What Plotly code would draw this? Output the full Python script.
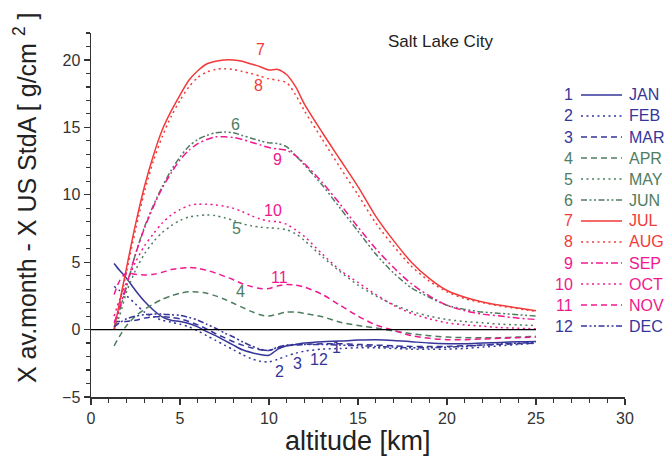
import plotly.graph_objects as go

# ---------------- data ----------------
altitude = [1.3, 1.6, 2.0, 2.5, 3.0, 3.5, 4.0, 4.5, 5.0, 5.5, 6.0, 6.5, 7.0, 7.5, 8.0, 8.5,
            9.0, 9.5, 10.0, 10.5, 11.0, 11.5, 12.0, 13, 14, 15, 16, 17, 18, 19, 20, 21,
            22, 23, 24, 25]

jan = [4.9, 4.4, 3.8, 2.9, 2.1, 1.45, 0.95, 0.7, 0.6, 0.45, 0.2, -0.15, -0.45, -0.8, -1.15, -1.5,
       -1.7, -1.85, -1.9, -1.45, -1.2, -1.1, -1.0, -0.9, -0.85, -0.78, -0.75, -0.8, -0.9, -1.0, -1.05, -1.05,
       -1.0, -0.95, -0.9, -0.88]
feb = [3.2, 2.9, 2.5, 1.9, 1.3, 0.95, 0.7, 0.55, 0.4, 0.2, -0.1, -0.45, -0.8, -1.15, -1.5, -1.85,
       -2.15, -2.35, -2.4, -2.2, -1.95, -1.75, -1.6, -1.45, -1.4, -1.35, -1.35, -1.4, -1.45, -1.45, -1.45, -1.4,
       -1.3, -1.2, -1.1, -1.0]
mar = [0.6, 0.6, 0.6, 0.7, 0.85, 0.95, 0.95, 0.9, 0.8, 0.6, 0.35, 0.05, -0.3, -0.6, -0.9, -1.15,
       -1.35, -1.5, -1.55, -1.35, -1.2, -1.15, -1.1, -1.05, -1.05, -1.1, -1.15, -1.2, -1.25, -1.25, -1.25, -1.2,
       -1.15, -1.1, -1.05, -1.0]
apr = [-1.2, -0.5, 0.3, 1.0, 1.5, 1.9, 2.25, 2.5, 2.7, 2.8, 2.78, 2.7, 2.5, 2.25, 1.95, 1.65,
       1.35, 1.1, 1.0, 1.15, 1.3, 1.3, 1.2, 0.95, 0.55, 0.3, 0.12, -0.1, -0.3, -0.45, -0.55, -0.6,
       -0.6, -0.6, -0.55, -0.5]
may = [0.0, 1.0, 2.8, 4.4, 5.6, 6.5, 7.2, 7.7, 8.1, 8.35, 8.45, 8.5, 8.45, 8.3, 8.1, 7.85,
       7.7, 7.6, 7.55, 7.5, 7.4, 7.1, 6.6, 5.4, 4.3, 3.3, 2.5, 1.85, 1.35, 1.0, 0.75, 0.6,
       0.5, 0.4, 0.35, 0.3]
jun = [0.2, 1.4, 3.2, 5.6, 7.6, 9.2, 10.6, 11.8, 12.8, 13.6, 14.1, 14.4, 14.6, 14.65, 14.6, 14.4,
       14.2, 14.0, 13.85, 13.8, 13.55, 12.9, 12.2, 10.7, 9.0, 7.3, 5.6, 4.2, 3.1, 2.4, 1.8, 1.5,
       1.3, 1.2, 1.1, 1.0]
jul = [0.0, 2.0, 4.6, 7.8, 10.6, 12.9, 14.8, 16.2, 17.4, 18.5, 19.2, 19.7, 19.9, 20.0, 20.0, 19.9,
       19.7, 19.5, 19.25, 19.3, 18.9, 18.0, 16.7, 14.6, 12.6, 10.6, 8.4, 6.6, 5.0, 3.8, 2.9, 2.4,
       2.05, 1.8, 1.6, 1.4]
aug = [0.0, 1.8, 4.3, 7.4, 10.2, 12.5, 14.3, 15.8, 17.0, 18.0, 18.7, 19.1, 19.3, 19.35, 19.3, 19.15,
       19.0, 18.8, 18.6, 18.5, 18.3, 17.4, 16.2, 14.1, 12.0, 10.0, 7.9, 6.2, 4.7, 3.6, 2.8, 2.3,
       2.0, 1.75, 1.55, 1.35]
sep = [0.5, 1.6, 3.3, 5.6, 7.5, 9.1, 10.5, 11.6, 12.6, 13.3, 13.8, 14.1, 14.3, 14.3, 14.25, 14.1,
       13.9, 13.7, 13.5, 13.4, 13.3, 12.9, 12.3, 10.9, 9.3, 7.6, 6.0, 4.6, 3.4, 2.5, 1.8, 1.4,
       1.15, 1.0, 0.85, 0.75]
oct_ = [1.0, 2.2, 3.5, 5.0, 6.2, 7.1, 7.9, 8.5, 8.9, 9.2, 9.3, 9.3, 9.25, 9.15, 9.0, 8.75,
        8.45, 8.2, 8.05, 8.0, 7.8, 7.4, 6.9, 5.6, 4.4, 3.5, 2.6, 1.8, 1.2, 0.8, 0.5, 0.35,
        0.25, 0.15, 0.1, 0.05]
nov = [2.6, 3.6, 4.2, 4.1, 4.05, 4.1, 4.25, 4.45, 4.55, 4.6, 4.55, 4.4, 4.2, 3.95, 3.7, 3.4,
       3.2, 3.05, 3.05, 3.25, 3.35, 3.3, 3.15, 2.6, 1.8, 1.0, 0.35, -0.05, -0.45, -0.65, -0.75, -0.75,
       -0.7, -0.65, -0.6, -0.55]
dec = [0.2, 0.5, 0.8, 1.0, 1.1, 1.15, 1.15, 1.1, 1.05, 0.9, 0.7, 0.4, 0.1, -0.25, -0.55, -0.9,
       -1.2, -1.45, -1.55, -1.3, -1.15, -1.1, -1.1, -1.1, -1.15, -1.2, -1.25, -1.3, -1.35, -1.35, -1.3, -1.25,
       -1.15, -1.05, -1.0, -0.95]

month_numbers = ["1", "2", "3", "4", "5", "6", "7", "8", "9", "10", "11", "12"]
month_names = ["JAN", "FEB", "MAR", "APR", "MAY", "JUN", "JUL", "AUG", "SEP", "OCT", "NOV", "DEC"]
series = [jan, feb, mar, apr, may, jun, jul, aug, sep, oct_, nov, dec]

# curve label positions (altitude, value)
label_alt = [13.8, 10.6, 11.6, 8.4, 8.2, 8.1, 9.5, 9.4, 10.45, 10.25, 10.6, 12.8]
label_val = [-1.35, -3.1, -2.55, 2.85, 7.5, 15.25, 20.75, 18.1, 12.6, 8.85, 3.85, -2.25]

zero_line_alt = [0, 25]
x_ticks = [0, 5, 10, 15, 20, 25, 30]
y_ticks = [-5, 0, 5, 10, 15, 20]

# ---------------- style ----------------
BLUE = "#35359a"
GREEN = "#4e7d5f"
RED = "#f23a3a"
MAG = "#f0188e"
colors = [BLUE, BLUE, BLUE, GREEN, GREEN, GREEN, RED, RED, MAG, MAG, MAG, BLUE]
DOT = "2px,3.5px"
DASH = "6px,4px"
DASHDOT = "7px,3px,2px,3px"
DASHDOTDOT = "6px,2.5px,2px,2.5px,2px,2.5px"
dashes = ["solid", DOT, DASH, DASH, DOT, DASHDOTDOT, "solid", DOT, DASHDOT, DOT, DASH, DASHDOTDOT]
FONT = "Liberation Sans, Arial, sans-serif"

fig = go.Figure()

for name, vals, c, d in zip(month_names, series, colors, dashes):
    fig.add_trace(go.Scatter(
        x=altitude, y=vals, mode="lines", name=name,
        line=dict(color=c, width=1.5, dash=d, shape="spline", smoothing=0.8),
        showlegend=False, hoverinfo="skip"))

# zero reference line
fig.add_trace(go.Scatter(x=zero_line_alt, y=[0, 0], mode="lines",
                         line=dict(color="black", width=1.3), showlegend=False, hoverinfo="skip"))

annotations = []
# curve labels
for num, xa, ya, c in zip(month_numbers, label_alt, label_val, colors):
    annotations.append(dict(x=xa, y=ya, xref="x", yref="y", text=num, showarrow=False,
                            font=dict(family=FONT, size=16, color=c)))

# custom legend
L, T, W, H = 91, 33, 534, 364   # plot area in px


def px2paper_x(px):
    return (px - L) / W


def px2paper_y(py):
    return (T + H - py) / H


shapes = []
for i, (num, name, c, d) in enumerate(zip(month_numbers, month_names, colors, dashes)):
    py = 95 + i * 21.0
    yp = px2paper_y(py)
    annotations.append(dict(x=px2paper_x(575), y=yp, xref="paper", yref="paper", text=num,
                            xanchor="right", yanchor="middle", showarrow=False,
                            font=dict(family=FONT, size=16, color=c)))
    annotations.append(dict(x=px2paper_x(627), y=yp, xref="paper", yref="paper", text=name,
                            xanchor="left", yanchor="middle", showarrow=False,
                            font=dict(family=FONT, size=16, color=c)))
    shapes.append(dict(type="line", xref="paper", yref="paper",
                       x0=px2paper_x(581), x1=px2paper_x(622), y0=yp, y1=yp,
                       line=dict(color=c, width=1.5, dash=d)))

annotations.append(dict(x=px2paper_x(440), y=px2paper_y(41), xref="paper", yref="paper",
                        text="Salt Lake City", showarrow=False, xanchor="center", yanchor="middle",
                        font=dict(family=FONT, size=17, color="#222")))

# axis titles
annotations.append(dict(x=px2paper_x(25), y=px2paper_y(198), xref="paper", yref="paper",
                        text="X av.month - X US StdA [ g/cm <sup>2</sup> ]", textangle=-90,
                        showarrow=False, xanchor="center", yanchor="middle",
                        font=dict(family=FONT, size=25, color="#222")))
annotations.append(dict(x=0.5, y=px2paper_y(441), xref="paper", yref="paper",
                        text="altitude [km]", showarrow=False, xanchor="center", yanchor="middle",
                        font=dict(family=FONT, size=27, color="#222")))

fig.update_layout(
    width=668, height=464,
    margin=dict(l=L, r=668 - L - W, t=T, b=464 - T - H),
    paper_bgcolor="white", plot_bgcolor="white",
    annotations=annotations, shapes=shapes,
    font=dict(family=FONT, size=16, color="#333"),
    hovermode=False,
)

fig.update_xaxes(range=[0, 30], tickmode="array", tickvals=x_ticks,
                 showline=True, linecolor="#333", linewidth=1.5, mirror=False,
                 ticks="outside", ticklen=6, tickwidth=1.3, tickcolor="#333",
                 minor=dict(dtick=1, ticks="outside", ticklen=4, tickwidth=1.2, tickcolor="#333"),
                 showgrid=False, zeroline=False,
                 tickfont=dict(family=FONT, size=16, color="#333"))
fig.update_yaxes(range=[-5, 22], tickmode="array", tickvals=y_ticks,
                 showline=True, linecolor="#333", linewidth=1.5, mirror=False,
                 ticks="outside", ticklen=6, tickwidth=1.3, tickcolor="#333",
                 minor=dict(dtick=1, tick0=0, ticks="outside", ticklen=4, tickwidth=1.2, tickcolor="#333"),
                 showgrid=False, zeroline=False,
                 tickfont=dict(family=FONT, size=16, color="#333"))

fig.write_html("out.html", config={"displayModeBar": False, "staticPlot": True},
               post_script="document.body.style.margin='0';document.body.style.overflow='hidden';")
